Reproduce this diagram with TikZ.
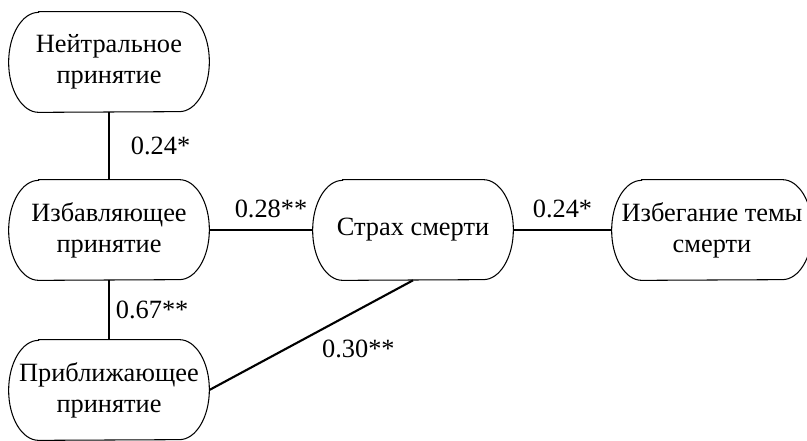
\documentclass[tikz,border=0pt]{standalone}
\usepackage{fontspec}
\setmainfont{Liberation Serif}
\usepackage{xcolor}
\usepackage{tikz}
\usetikzlibrary{calc}
\tikzset{
  frame/.style={draw=black, line width=0.6pt},
  link/.style={draw=black, line width=1.2pt},
  lab/.style={font=\fontsize{15}{17.5}\selectfont},
  box/.style={minimum width=4cm, minimum height=2cm, inner sep=1pt, align=center,
    font=\fontsize{15}{17.5}\selectfont,
    append after command={\pgfextra{
      \draw[frame] ([xshift=6mm]\tikzlastnode.north west)
        -- ([xshift=-6mm]\tikzlastnode.north east)
        arc[start angle=90, end angle=-90, x radius=6mm, y radius=1cm]
        -- ([xshift=6mm]\tikzlastnode.south west)
        arc[start angle=270, end angle=90, x radius=6mm, y radius=1cm]
        -- cycle;}}}
}

\begin{document}
\begin{tikzpicture}
\useasboundingbox (0,0) rectangle (16.14,8.8);
% left column
\node[box] (neutral) at (2.18,7.56) {Нейтральное\\принятие};
\node[box] (deliver) at (2.18,4.2) {Избавляющее\\принятие};
\node[box] (approach) at (2.18,1.0) {Приближающее\\принятие};
% middle and right
\node[box] (fear) at (8.26,4.2) {Страх смерти};
\node[box] (avoid) at (14.24,4.2) {Избегание темы\\смерти};

% links
\draw[link] (neutral) -- node[lab, right, xshift=0.3cm] {0.24*} (deliver);
\draw[link] (deliver) -- node[lab, right] {0.67**} (approach);
\draw[link] (deliver) -- node[lab, above, xshift=0.2cm, yshift=0.1cm] {0.28**} (fear);
\draw[link] (fear) -- node[lab, above, yshift=0.1cm] {0.24*} (avoid);
\draw[link] (approach.east) -- node[lab, pos=0.52, below right] {0.30**} (fear.south);
\end{tikzpicture}
\end{document}
